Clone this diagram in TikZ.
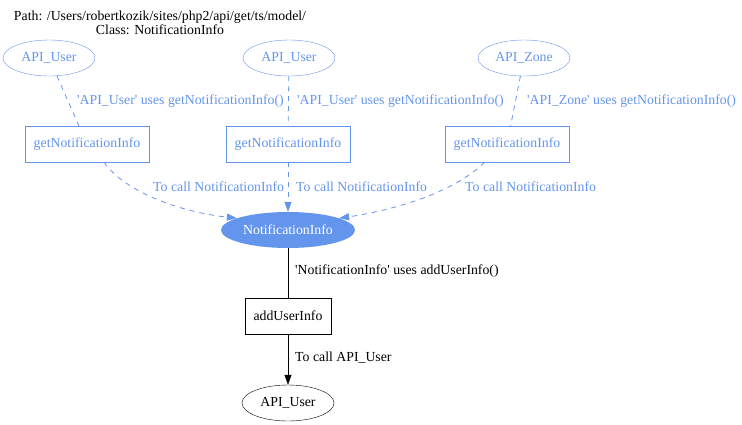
\documentclass[tikz,border=0pt]{standalone}
\usepackage{fontspec}
\setmainfont{Liberation Serif}[Ligatures=TeXOff]
\usetikzlibrary{arrows.meta,shapes.geometric}
\definecolor{cblue}{HTML}{6495ED}
\tikzset{
  every node/.style={font=\fontsize{13.8}{14}\selectfont},
  bluebox/.style={draw=cblue,text=cblue,rectangle,minimum width=124pt,minimum height=36pt,inner sep=0pt},
  blueell/.style={draw=cblue,text=cblue,ellipse,minimum width=92pt,minimum height=36pt,inner sep=0pt},
  blackbox/.style={draw=black,rectangle,minimum width=86pt,minimum height=36pt,inner sep=0pt},
  blackell/.style={draw=black,ellipse,minimum width=92pt,minimum height=36pt,inner sep=0pt},
  bluelab/.style={text=cblue,anchor=west,inner sep=0pt},
  blacklab/.style={anchor=west,inner sep=0pt},
  blueedge/.style={draw=cblue,dash pattern=on 5pt off 5pt,line width=0.8pt},
  gvtip/.style={-{Triangle[length=10pt,width=7pt]}},
}
\begin{document}
\begin{tikzpicture}[x=1pt,y=-1pt]
\useasboundingbox (0,0) rectangle (742,424);
\node[align=center,inner sep=0pt] (title) at (160,23) {Path: /Users/robertkozik/sites/php2/api/get/ts/model/\\Class: NotificationInfo};

\node[blueell] (u1) at (49,58) {API\_User};
\node[blueell] (u2) at (289,58) {API\_User};
\node[blueell] (z) at (524,58) {API\_Zone};

\node[bluebox] (b1) at (87,144) {getNotificationInfo};
\node[bluebox] (b2) at (288,144) {getNotificationInfo};
\node[bluebox] (b3) at (507,144) {getNotificationInfo};

\node[ellipse,fill=cblue,text=white,minimum width=134pt,minimum height=36pt,inner sep=0pt] (ni) at (288,230) {NotificationInfo};

\node[blackbox] (add) at (288,316) {addUserInfo};
\node[blackell] (ub) at (288,403) {API\_User};

\draw[blueedge] (u1) -- (b1);
\draw[blueedge] (u2) -- (b2);
\draw[blueedge] (z) -- (b3);

\node[bluelab] (l1) at (77,101) {'API\_User' uses getNotificationInfo()};
\node[bluelab] (l2) at (297,101) {'API\_User' uses getNotificationInfo()};
\node[bluelab] (l3) at (527,101) {'API\_Zone' uses getNotificationInfo()};

\draw[blueedge,gvtip] (b1.-47) .. controls (125,192) and (180,212) .. (ni.167);
\draw[blueedge,gvtip] (b2) -- (ni);
\draw[blueedge,gvtip] (b3.-141) .. controls (455,192) and (395,210) .. (ni.13);

\node[bluelab] (l4) at (153,187) {To call NotificationInfo};
\node[bluelab] (l5) at (296,187) {To call NotificationInfo};
\node[bluelab] (l6) at (465,187) {To call NotificationInfo};

\draw[line width=0.8pt] (ni) -- (add);
\draw[line width=0.8pt,gvtip] (add) -- (ub);

\node[blacklab] (l7) at (295,271) {'NotificationInfo' uses addUserInfo()};
\node[blacklab] (l8) at (295,358) {To call API\_User};
\end{tikzpicture}
\end{document}
